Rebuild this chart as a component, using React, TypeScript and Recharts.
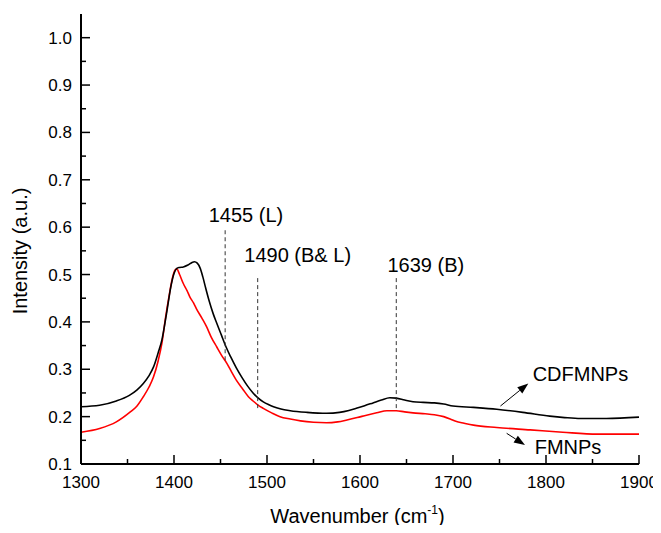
import React from 'react';
import { LineChart, Line, XAxis, YAxis, ReferenceLine, ReferenceDot, Label } from 'recharts';

// CDFMNPs spectrum (black)
const cdfWavenumber = [1300, 1320, 1338, 1352, 1360, 1367, 1373, 1378, 1383, 1387, 1392, 1397, 1400, 1403, 1406, 1410, 1415, 1419, 1422, 1425, 1428, 1431, 1434, 1438, 1442, 1446, 1451, 1456, 1461, 1467, 1473, 1479, 1485, 1490, 1496, 1502, 1507, 1515, 1525, 1543, 1564, 1578, 1588, 1596, 1605, 1614, 1623, 1632, 1639, 1648, 1657, 1668, 1680, 1690, 1700, 1722, 1747, 1775, 1804, 1820, 1837, 1865, 1900];
const cdfIntensity = [0.221, 0.224, 0.233, 0.245, 0.256, 0.270, 0.286, 0.305, 0.335, 0.362, 0.418, 0.478, 0.502, 0.513, 0.515, 0.516, 0.520, 0.525, 0.527, 0.524, 0.514, 0.495, 0.472, 0.443, 0.418, 0.397, 0.372, 0.347, 0.326, 0.303, 0.283, 0.265, 0.250, 0.240, 0.231, 0.225, 0.221, 0.216, 0.2125, 0.209, 0.207, 0.209, 0.213, 0.2175, 0.223, 0.229, 0.235, 0.240, 0.239, 0.235, 0.2315, 0.230, 0.229, 0.2265, 0.2225, 0.2195, 0.2155, 0.209, 0.201, 0.198, 0.196, 0.196, 0.199];

// FMNPs spectrum (red)
const fmWavenumber = [1300, 1320, 1338, 1353, 1360, 1367, 1373, 1378, 1383, 1387, 1391, 1395, 1398, 1401, 1403, 1406, 1410, 1414, 1417, 1421, 1424, 1430, 1435, 1440, 1446, 1451, 1457, 1462, 1467, 1474, 1480, 1485, 1490, 1496, 1505, 1514, 1525, 1536, 1550, 1564, 1576, 1586, 1597, 1607, 1618, 1629, 1639, 1648, 1657, 1670, 1680, 1690, 1697, 1703, 1712, 1722, 1747, 1783, 1818, 1855, 1900];
const fmIntensity = [0.167, 0.175, 0.189, 0.210, 0.222, 0.242, 0.262, 0.284, 0.318, 0.355, 0.410, 0.458, 0.490, 0.509, 0.512, 0.500, 0.481, 0.466, 0.453, 0.440, 0.428, 0.408, 0.390, 0.368, 0.347, 0.330, 0.312, 0.294, 0.277, 0.258, 0.242, 0.233, 0.225, 0.2175, 0.208, 0.200, 0.195, 0.191, 0.188, 0.187, 0.189, 0.193, 0.198, 0.203, 0.208, 0.2125, 0.2125, 0.210, 0.208, 0.206, 0.204, 0.200, 0.195, 0.190, 0.186, 0.182, 0.177, 0.172, 0.167, 0.163, 0.163];

const xTicks = [1300, 1350, 1400, 1450, 1500, 1550, 1600, 1650, 1700, 1750, 1800, 1850, 1900];
const yTicks = [0.1, 0.15, 0.2, 0.25, 0.3, 0.35, 0.4, 0.45, 0.5, 0.55, 0.6, 0.65, 0.7, 0.75, 0.8, 0.85, 0.9, 0.95, 1.0];

// Peak markers (dashed lines): wavenumber, bottom / top intensity
const peakWavenumbers = [1455, 1490, 1639];
const peakBottoms = [0.319, 0.218, 0.218];
const peakTops = [0.594, 0.495, 0.495];

// Annotation texts and their anchor points (data coordinates)
const annotationTexts = ['1455 (L)', '1490 (B& L)', '1639 (B)', 'CDFMNPs', 'FMNPs'];
const annotationX = [1477.4, 1533, 1670.8, 1837, 1823.7];
const annotationY = [0.625, 0.541, 0.52, 0.29, 0.1365];

// Arrows: start -> tip
const arrowStarts = [{ x: 1751, y: 0.2224 }, { x: 1757.7, y: 0.1648 }];
const arrowTips = [{ x: 1781, y: 0.270 }, { x: 1777.4, y: 0.140 }];

const cdfData = cdfWavenumber.map((w, i) => ({ w, v: cdfIntensity[i] }));
const fmData = fmWavenumber.map((w, i) => ({ w, v: fmIntensity[i] }));

const FONT = '"Liberation Sans", Arial, sans-serif';
const MAJOR = 9;
const MINOR = 5;

const isMajorX = (v: number) => Math.round(v) % 100 === 0;
const isMajorY = (v: number) => Math.abs(v * 10 - Math.round(v * 10)) < 1e-6;

const BottomTick = (props: any) => {
  const { x, y, payload } = props;
  const major = isMajorX(payload.value);
  return (
    <g>
      <line x1={x} x2={x} y1={y} y2={y - (major ? MAJOR : MINOR)} stroke="#000" strokeWidth={1.5} />
      {major && (
        <text x={x} y={y + 24} textAnchor="middle" fontSize={17} fill="#000" fontFamily={FONT}>
          {payload.value}
        </text>
      )}
    </g>
  );
};

const TopTick = (props: any) => {
  const { x, y, payload } = props;
  const major = isMajorX(payload.value);
  return <line x1={x} x2={x} y1={y} y2={y + (major ? MAJOR : MINOR)} stroke="#000" strokeWidth={1.5} />;
};

const LeftTick = (props: any) => {
  const { x, y, payload } = props;
  const major = isMajorY(payload.value);
  return (
    <g>
      <line x1={x} x2={x + (major ? MAJOR : MINOR)} y1={y} y2={y} stroke="#000" strokeWidth={1.5} />
      {major && (
        <text x={x - 9} y={y + 6} textAnchor="end" fontSize={17} fill="#000" fontFamily={FONT}>
          {Number(payload.value).toFixed(1)}
        </text>
      )}
    </g>
  );
};

const RightTick = (props: any) => {
  const { x, y, payload } = props;
  const major = isMajorY(payload.value);
  return <line x1={x} x2={x - (major ? MAJOR : MINOR)} y1={y} y2={y} stroke="#000" strokeWidth={1.5} />;
};

const ArrowShape = (props: any) => {
  const { x1, y1, x2, y2 } = props;
  const dx = x2 - x1;
  const dy = y2 - y1;
  const len = Math.sqrt(dx * dx + dy * dy) || 1;
  const ux = dx / len;
  const uy = dy / len;
  const headLen = 11;
  const headW = 4;
  const bx = x2 - ux * headLen;
  const by = y2 - uy * headLen;
  const pts = `${x2},${y2} ${bx - uy * headW},${by + ux * headW} ${bx + uy * headW},${by - ux * headW}`;
  return (
    <g>
      <line x1={x1} y1={y1} x2={bx} y2={by} stroke="#000" strokeWidth={1} />
      <polygon points={pts} fill="#000" />
    </g>
  );
};

const YTitle = (props: any) => {
  const { viewBox } = props;
  const cx = viewBox.x + 12;
  const cy = viewBox.y + viewBox.height / 2 + 12;
  return (
    <text x={cx} y={cy} transform={`rotate(-90 ${cx} ${cy})`} textAnchor="middle" dominantBaseline="central" fontSize={20} fill="#000" fontFamily={FONT}>
      Intensity (a.u.)
    </text>
  );
};

const XTitle = (props: any) => {
  const { viewBox } = props;
  const cx = viewBox.x + viewBox.width / 2 - 2.5;
  const by = viewBox.y + 58.5;
  return (
    <text x={cx} y={by} textAnchor="middle" fontSize={20} fill="#000" fontFamily={FONT}>
      <tspan>Wavenumber (cm</tspan>
      <tspan fontSize={12} dy={-9}>-1</tspan>
      <tspan dy={9}>)</tspan>
    </text>
  );
};

export default function App() {
  return (
    <div style={{ width: 645, height: 517, fontFamily: FONT }}>
      <LineChart width={653} height={517} margin={{ top: 6, right: 22, bottom: 0, left: 0 }}>
        <XAxis
          xAxisId="bottom"
          dataKey="w"
          type="number"
          domain={[1300, 1900]}
          ticks={xTicks}
          interval={0}
          height={61}
          tickSize={0}
          tickMargin={0}
          tickLine={false}
          tick={<BottomTick />}
          axisLine={{ stroke: '#000', strokeWidth: 2 }}
          allowDataOverflow
        >
          <Label content={<XTitle />} />
        </XAxis>
        <XAxis
          xAxisId="top"
          orientation="top"
          dataKey="w"
          type="number"
          domain={[1300, 1900]}
          ticks={xTicks}
          interval={0}
          height={0}
          tickSize={0}
          tickMargin={0}
          tickLine={false}
          tick={<TopTick />}
          axisLine={{ stroke: '#000', strokeWidth: 2 }}
          allowDataOverflow
        />
        <YAxis
          yAxisId="left"
          type="number"
          domain={[0.1, 1.05]}
          ticks={yTicks}
          interval={0}
          width={73}
          tickSize={0}
          tickMargin={0}
          tickLine={false}
          tick={<LeftTick />}
          axisLine={{ stroke: '#000', strokeWidth: 2 }}
          allowDataOverflow
        >
          <Label content={<YTitle />} />
        </YAxis>
        <YAxis
          yAxisId="right"
          orientation="right"
          type="number"
          domain={[0.1, 1.05]}
          ticks={yTicks}
          interval={0}
          width={0}
          tickSize={0}
          tickMargin={0}
          tickLine={false}
          tick={<RightTick />}
          axisLine={{ stroke: '#000', strokeWidth: 2 }}
          allowDataOverflow
        />

        <Line
          xAxisId="bottom"
          yAxisId="left"
          data={fmData}
          dataKey="v"
          type="monotone"
          stroke="#ff0000"
          strokeWidth={1.6}
          dot={false}
          activeDot={false}
          isAnimationActive={false}
        />
        <Line
          xAxisId="bottom"
          yAxisId="left"
          data={cdfData}
          dataKey="v"
          type="monotone"
          stroke="#000000"
          strokeWidth={1.6}
          dot={false}
          activeDot={false}
          isAnimationActive={false}
        />

        {peakWavenumbers.map((w, i) => (
          <ReferenceLine
            key={`peak-${w}`}
            xAxisId="bottom"
            yAxisId="left"
            segment={[{ x: w, y: peakBottoms[i] }, { x: w, y: peakTops[i] }]}
            stroke="#333"
            strokeWidth={1}
            strokeDasharray="4 3"
          />
        ))}

        {arrowStarts.map((s, i) => (
          <ReferenceLine
            key={`arrow-${i}`}
            xAxisId="bottom"
            yAxisId="left"
            segment={[s, arrowTips[i]]}
            shape={<ArrowShape />}
          />
        ))}

        {annotationTexts.map((t, i) => (
          <ReferenceDot
            key={`ann-${i}`}
            xAxisId="bottom"
            yAxisId="left"
            x={annotationX[i]}
            y={annotationY[i]}
            r={0}
            fill="none"
            stroke="none"
            label={{ value: t, position: 'center', fontSize: 20, fill: '#000', fontFamily: FONT }}
          />
        ))}
      </LineChart>
    </div>
  );
}
